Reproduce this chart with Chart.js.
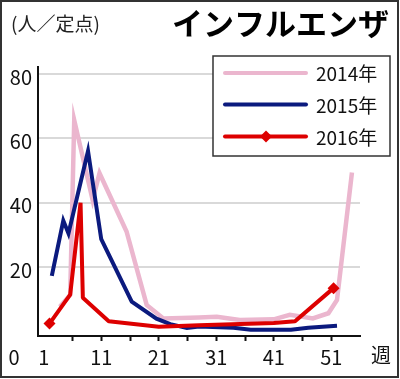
<!DOCTYPE html>
<html>
<head>
<meta charset="utf-8">
<script src="https://cdn.jsdelivr.net/npm/chart.js@4"></script>
<style>
  body { margin: 0; background: #fff; }
  canvas { display: block; }
</style>
</head>
<body>
<canvas id="myChart" width="400" height="379"></canvas>
<script>
// week positions / values
let weeks2014 = [3.8, 5.6, 6.3, 9.5, 10.7, 15.4, 18.9, 21.8, 28, 31.1, 35.1, 41, 43.8, 47.8, 50.5, 52, 54.6]
let values2014 = [7.7, 11.4, 65.7, 40.9, 49.2, 31.1, 8.3, 4.1, 4.4, 4.6, 3.6, 3.8, 5.2, 4.1, 5.7, 9.8, 49.4]

let weeks2015 = [2.4, 4.4, 5.3, 8.7, 11.0, 16.3, 20.6, 23, 25.9, 28, 34, 37, 44, 47, 52]
let values2015 = [17.3, 34.5, 30.5, 56.1, 28.7, 9.3, 4.0, 2.3, 1.1, 1.6, 1.2, 0.6, 0.6, 1.2, 1.8]

let weeks2016 = [2.0, 5.6, 7.4, 7.8, 12.3, 21, 28, 41, 44.7, 51.4]
let values2016 = [2.5, 11.5, 40, 10.5, 3.2, 1.5, 2.0, 2.7, 3.2, 13.5]

let seriesLabels = ['2014年', '2015年', '2016年']
let xTicks = [1, 6, 11, 16, 21, 26, 31, 36, 41, 46, 51]
let yTicks = [20, 40, 60, 80]

let titleText = 'インフルエンザ'
let unitText = '(人／定点)'
let xUnitText = '週'
let zeroText = '0'

const FONT = '"Noto Sans CJK JP", "Noto Sans", sans-serif'

function toPoints(xs, ys) {
    return xs.map(function (x, i) {
        return { x: x, y: ys[i] }
    })
}

// diamond only on first and last point of 2016
let radii2016 = values2016.map(function (v, i) {
    return (i === 0 || i === values2016.length - 1) ? 6 : 0
})

const decorations = {
    id: 'decorations',
    afterDraw(chart) {
        const ctx = chart.ctx
        ctx.save()

        // outer frame
        ctx.strokeStyle = '#333'
        ctx.lineWidth = 2
        ctx.strokeRect(1, 1, 397, 376)

        // headings
        ctx.fillStyle = '#222'
        ctx.textBaseline = 'middle'
        ctx.textAlign = 'left'
        ctx.font = '19px ' + FONT
        ctx.fillText(unitText, 11, 24)

        ctx.fillStyle = '#000'
        ctx.textAlign = 'right'
        ctx.font = 'bold 31px ' + FONT
        ctx.fillText(titleText, 389, 23)

        // origin and unit labels under the x axis
        ctx.fillStyle = '#111'
        ctx.font = '20px ' + FONT
        ctx.textAlign = 'center'
        ctx.fillText(zeroText, 14, 357)
        ctx.fillText(xUnitText, 381, 355)

        // legend box
        ctx.fillStyle = '#fff'
        ctx.fillRect(213, 56, 177, 100)
        ctx.strokeStyle = '#333'
        ctx.lineWidth = 1.5
        ctx.strokeRect(213, 56, 177, 100)

        let rows = [73, 104.5, 136.5]
        chart.data.datasets.forEach(function (ds, i) {
            let y = rows[i]
            ctx.strokeStyle = ds.borderColor
            ctx.lineWidth = 4
            ctx.lineCap = 'round'
            ctx.beginPath()
            ctx.moveTo(225, y)
            ctx.lineTo(306, y)
            ctx.stroke()
            if (i === 2) {
                ctx.fillStyle = ds.borderColor
                ctx.beginPath()
                ctx.moveTo(266, y - 6)
                ctx.lineTo(272, y)
                ctx.lineTo(266, y + 6)
                ctx.lineTo(260, y)
                ctx.closePath()
                ctx.fill()
            }
            ctx.fillStyle = '#111'
            ctx.textAlign = 'left'
            ctx.font = '19px ' + FONT
            ctx.fillText(ds.label, 316, y + 1)
        })

        ctx.restore()
    }
}

let currChart = document.getElementById('myChart').getContext('2d')

let lineChart = new Chart(currChart, {
    type: 'line',
    data: {
        datasets: [{
            label: seriesLabels[0],
            data: toPoints(weeks2014, values2014),
            borderColor: '#ebb6ce',
            borderWidth: 4.5,
            pointRadius: 0,
            order: 3,
        }, {
            label: seriesLabels[1],
            data: toPoints(weeks2015, values2015),
            borderColor: '#0b1a7e',
            borderWidth: 4,
            pointRadius: 0,
            order: 2,
        }, {
            label: seriesLabels[2],
            data: toPoints(weeks2016, values2016),
            borderColor: '#dd0000',
            backgroundColor: '#dd0000',
            borderWidth: 4,
            borderJoinStyle: 'bevel',
            pointStyle: 'rectRot',
            pointRadius: radii2016,
            pointBorderWidth: 0,
            order: 1,
        }]
    },
    options: {
        responsive: false,
        animation: false,
        layout: {
            padding: { left: 0, right: 40, top: 67, bottom: 0 }
        },
        scales: {
            x: {
                type: 'linear',
                min: 0,
                max: 56,
                afterBuildTicks: function (scale) {
                    scale.ticks = xTicks.map(function (v) { return { value: v } })
                },
                afterFit: function (scale) {
                    scale.height = 43
                },
                ticks: {
                    autoSkip: false,
                    maxRotation: 0,
                    padding: 4,
                    color: '#111',
                    font: { family: FONT, size: 20 },
                    callback: function (value) {
                        return (value - 1) % 10 === 0 ? String(value) : ''
                    }
                },
                grid: {
                    drawOnChartArea: false,
                    tickLength: 5,
                    tickWidth: 2,
                    tickColor: function (context) {
                        return context.tick && context.tick.value === 1 ? 'rgba(0,0,0,0)' : '#111'
                    }
                },
                border: { color: '#111', width: 2 }
            },
            y: {
                min: -1.37,
                max: 82.2,
                afterBuildTicks: function (scale) {
                    scale.ticks = yTicks.map(function (v) { return { value: v } })
                },
                afterFit: function (scale) {
                    scale.width = 38
                },
                ticks: {
                    padding: 6,
                    labelOffset: 3,
                    color: '#111',
                    font: { family: FONT, size: 20 },
                },
                grid: {
                    color: '#d9d9d9',
                    lineWidth: 2,
                    drawTicks: false,
                },
                border: { color: '#111', width: 2 }
            }
        },
        plugins: {
            legend: { display: false },
            tooltip: { enabled: false }
        }
    },
    plugins: [decorations]
})
</script>
</body>
</html>
